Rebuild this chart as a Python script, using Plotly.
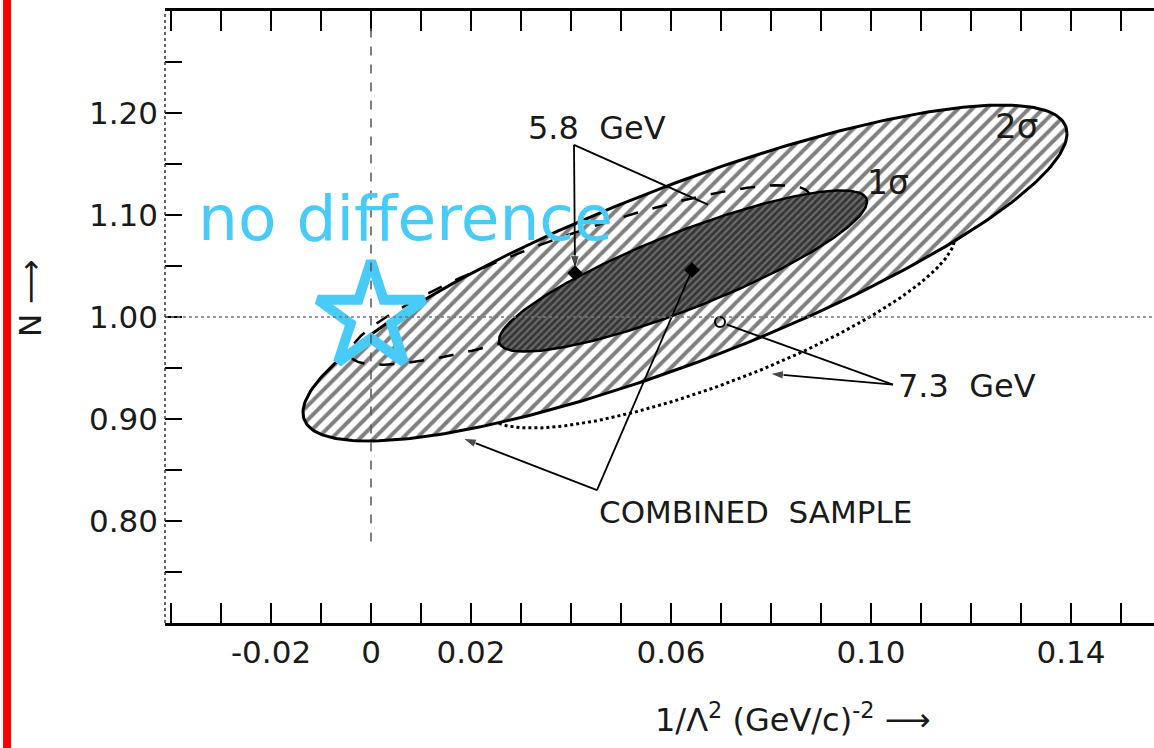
import numpy as np
import plotly.graph_objects as go

# ---------------- data ----------------
# confidence ellipses: centre, half-extent in x and y, correlation
ellipse_names = ["2σ", "1σ", "5.8 GeV", "7.3 GeV"]
ellipse_cx = [0.0628, 0.0624, 0.0418, 0.0698]
ellipse_cy = [1.0431, 1.0451, 1.0412, 0.9951]
ellipse_sx = [0.0764, 0.0368, 0.0460, 0.0470]
ellipse_sy = [0.1647, 0.0790, 0.0880, 0.1040]
ellipse_rho = [0.83, 0.86, 0.87, 0.80]

# best-fit points
center_names = ["COMBINED SAMPLE", "5.8 GeV", "7.3 GeV"]
center_x = [0.0642, 0.0408, 0.0698]
center_y = [1.0461, 1.0431, 0.9951]

# "no difference" point
star_x = [0.0]
star_y = [1.00]

# axis ticks
x_tick_vals = [round(-0.04 + 0.01 * i, 2) for i in range(20)]
x_tick_labels = {-0.02: "-0.02", 0.0: "0", 0.02: "0.02", 0.06: "0.06", 0.10: "0.10", 0.14: "0.14"}
y_tick_vals = [round(0.70 + 0.05 * i, 2) for i in range(13)]
y_tick_labels = {0.80: "0.80", 0.90: "0.90", 1.00: "1.00", 1.10: "1.10", 1.20: "1.20"}

# text labels (x, y, text, anchor, size)
labels = [
    (0.0452, 1.1854, "5.8  GeV", "center", 32),
    (0.1050, 0.9327, "7.3  GeV", "left", 32),
    (0.0768, 0.8088, "COMBINED  SAMPLE", "center", 31),
    (0.1034, 1.1317, "1σ", "center", 33),
    (0.1290, 1.1873, "2σ", "center", 34),
]
# leader lines: (tail x, tail y, head x, head y, arrow head?)
leaders = [
    (0.0406, 1.1688, 0.0408, 1.0470, True),
    (0.0406, 1.1688, 0.0674, 1.1102, False),
    (0.1044, 0.9337, 0.0712, 0.9925, False),
    (0.1044, 0.9337, 0.0798, 0.9444, True),
    (0.0452, 0.8302, 0.0184, 0.8810, True),
    (0.0452, 0.8302, 0.0642, 1.0461, False),
]

X_RANGE = [-0.0412, 0.1566]
Y_RANGE = [0.70, 1.30]
FONT = "DejaVu Sans"
INK = "#1a1a1a"
BLUE = "#48CBF8"


def ellipse(i, n=300):
    t = np.linspace(0, 2 * np.pi, n)
    r = ellipse_rho[i]
    x = ellipse_cx[i] + ellipse_sx[i] * np.cos(t)
    y = ellipse_cy[i] + ellipse_sy[i] * (r * np.cos(t) + np.sqrt(1 - r * r) * np.sin(t))
    return x, y


fig = go.Figure()

# 7.3 GeV dotted contour (only visible outside the hatched region)
x, y = ellipse(3)
fig.add_trace(go.Scatter(x=x, y=y, mode="lines", name=ellipse_names[3],
                         line=dict(color="black", width=3, dash="dot")))

# 2 sigma hatched region
x, y = ellipse(0)
fig.add_trace(go.Scatter(x=x, y=y, mode="lines", name=ellipse_names[0], fill="toself",
                         fillcolor="white",
                         fillpattern=dict(shape="/", fgcolor="black", bgcolor="white",
                                          size=10, solidity=0.4),
                         line=dict(color="black", width=3)))

# 5.8 GeV dashed contour
x, y = ellipse(2)
fig.add_trace(go.Scatter(x=x, y=y, mode="lines", name=ellipse_names[2],
                         line=dict(color="black", width=2.5, dash="longdash")))

# 1 sigma dark region
x, y = ellipse(1)
fig.add_trace(go.Scatter(x=x, y=y, mode="lines", name=ellipse_names[1], fill="toself",
                         fillcolor="#333333",
                         fillpattern=dict(shape="/", fgcolor="#000000", bgcolor="#6a6a6a",
                                          size=5, solidity=0.55),
                         line=dict(color="black", width=2.5)))

# leader lines with arrow heads
for (tx, ty, hx, hy, head) in leaders:
    fig.add_trace(go.Scatter(
        x=[tx, hx], y=[ty, hy], mode="lines+markers" if head else "lines",
        line=dict(color="black", width=1.8),
        marker=dict(symbol="arrow", size=[0, 14] if head else [0, 0], color="black",
                    angleref="previous"),
        hoverinfo="skip"))

# best-fit points
fig.add_trace(go.Scatter(x=center_x[:2], y=center_y[:2], mode="markers",
                         marker=dict(symbol="diamond", size=12, color="black")))
fig.add_trace(go.Scatter(x=center_x[2:], y=center_y[2:], mode="markers",
                         marker=dict(symbol="circle-open", size=10, color="black",
                                     line=dict(width=2))))

# star
fig.add_trace(go.Scatter(x=star_x, y=star_y, mode="markers",
                         marker=dict(symbol="star-open", size=80, color=BLUE,
                                     line=dict(width=10, color=BLUE))))

shapes = [
    # cross-hair lines
    dict(type="line", xref="x", yref="y", x0=0, x1=0, y0=0.78, y1=1.29,
         line=dict(color="#555", width=1.5, dash="dash"), layer="above"),
    dict(type="line", xref="paper", yref="y", x0=0, x1=1, y0=1.0, y1=1.0,
         line=dict(color="#777", width=1.5, dash="dot"), layer="above"),
    # left frame (dotted)
    dict(type="line", xref="paper", yref="paper", x0=0, x1=0, y0=0, y1=1,
         line=dict(color="#333", width=1.5, dash="dot")),
    # red bar at left edge
    dict(type="rect", xref="paper", yref="paper", x0=-0.1638, x1=-0.1557, y0=-0.25, y1=1.05,
         fillcolor="#ff0000", line=dict(width=0)),
]

annotations = []
for (lx, ly, txt, anchor, sz) in labels:
    annotations.append(dict(x=lx, y=ly, xref="x", yref="y", text=txt, showarrow=False,
                            xanchor=anchor, yanchor="middle",
                            font=dict(family=FONT, size=sz, color=INK)))
annotations.append(dict(x=-0.035, y=1.0966, xref="x", yref="y", text="no difference",
                        showarrow=False, xanchor="left", yanchor="middle",
                        font=dict(family=FONT, size=63, color=BLUE)))
# axis titles
annotations.append(dict(x=0.635, y=-0.155, xref="paper", yref="paper",
                        text="1/Λ<sup>2</sup> (GeV/c)<sup>-2</sup> ⟶", showarrow=False,
                        xanchor="center", yanchor="middle",
                        font=dict(family=FONT, size=32, color=INK)))
annotations.append(dict(x=-0.1365, y=0.531, xref="paper", yref="paper", text="N ⟶",
                        textangle=-90, showarrow=False, xanchor="center", yanchor="middle",
                        font=dict(family=FONT, size=31, color=INK)))

fig.update_layout(
    width=1154, height=748,
    margin=dict(l=165, r=0, t=11, b=125),
    paper_bgcolor="white", plot_bgcolor="white",
    showlegend=False,
    shapes=shapes, annotations=annotations,
    font=dict(family=FONT, color=INK),
)
fig.update_xaxes(
    range=X_RANGE, showgrid=False, zeroline=False,
    tickmode="array", tickvals=x_tick_vals,
    ticktext=[x_tick_labels.get(v, "") for v in x_tick_vals],
    ticks="inside", ticklen=20, tickwidth=2, tickcolor="black",
    showline=True, linecolor="black", linewidth=2.5, mirror="ticks",
    tickfont=dict(family=FONT, size=31, color=INK),
)
fig.update_yaxes(
    range=Y_RANGE, showgrid=False, zeroline=False,
    tickmode="array", tickvals=y_tick_vals,
    ticktext=[y_tick_labels.get(v, "") for v in y_tick_vals],
    ticks="inside", ticklen=17, tickwidth=2, tickcolor="black",
    showline=False, ticklabelstandoff=6,
    tickfont=dict(family=FONT, size=31, color=INK),
)

fig.write_html("out.html")
